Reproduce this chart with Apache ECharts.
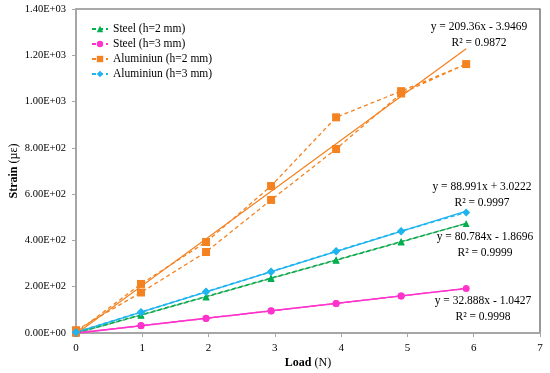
<!DOCTYPE html>
<html><head><meta charset="utf-8">
<script src="https://cdn.jsdelivr.net/npm/echarts@6/dist/echarts.min.js"></script>
<style>html,body{margin:0;padding:0;background:#fff}#c{width:550px;height:373px}</style>
</head><body><div id="c"></div>
<script>
// ---- data ----
var loads = [0, 0.981, 1.962, 2.943, 3.924, 4.905, 5.886];
var loadsLoop = [0, 0.981, 1.962, 2.943, 3.924, 4.905, 5.886, 4.905, 3.924, 2.943, 1.962, 0.981, 0];
var steel2 = [0, 77, 156, 236, 314, 393, 473, 395, 316, 238, 158, 79, 1];
var steel3 = [0, 31, 63, 95, 127, 160, 192, 160, 128, 96, 64, 32, 0];
var alu2 = [12, 175, 350, 575, 795, 1035, 1162, 1045, 932, 635, 393, 212, 2];
var alu3 = [2, 89, 177, 264, 352, 439, 521, 441, 354, 266, 179, 91, 4];
var trendX = [0, 5.886];
var trendSteel2 = [-1.87, 473.6];
var trendSteel3 = [-1.04, 192.5];
var trendAlu2 = [-3.95, 1228.3];
var trendAlu3 = [3.02, 526.8];
var names = ['Steel (h=2 mm)', 'Steel (h=3 mm)', 'Aluminiun (h=2 mm)', 'Aluminiun (h=3 mm)'];
var yTickLabels = ['0.00E+00','2.00E+02','4.00E+02','6.00E+02','8.00E+02','1.00E+03','1.20E+03','1.40E+03'];
var equations = [
  ['y = 209.36x - 3.9469', 'R² = 0.9872'],
  ['y = 88.991x + 3.0222', 'R² = 0.9997'],
  ['y = 80.784x - 1.8696', 'R² = 0.9999'],
  ['y = 32.888x - 1.0427', 'R² = 0.9998']
];
// ---- chart ----
var FONT = 'Liberation Serif';
var colors = {s2:'#00b050', s3:'#ff33cc', a2:'#f58220', a3:'#1fb4f0'};
function pairs(xs, ys){ return xs.map(function(x,i){return [x, ys[i]];}); }
function dataSeries(name, ys, color, symbol, size){
  return {name:name, type:'line', data:pairs(loadsLoop, ys), symbol:symbol, symbolSize:size,
    lineStyle:{color:color, width:1.3, type:[4,3]}, itemStyle:{color:color}, z:3};
}
function trendSeries(ys, color){
  return {name:'trend', type:'line', data:pairs(trendX, ys), symbol:'none',
    lineStyle:{color:color, width:1.3}, z:2, silent:true};
}
var chart = echarts.init(document.getElementById('c'));
var eqPos = [[479,27],[482,187],[485,237],[483,301]];
var graphics = [];
equations.forEach(function(e,i){
  graphics.push({type:'text', x:eqPos[i][0], y:eqPos[i][1], style:{text:e[0], font:'11.5px "'+FONT+'"', fill:'#000', align:'center', verticalAlign:'middle'}});
  graphics.push({type:'text', x:eqPos[i][0], y:eqPos[i][1]+16, style:{text:e[1], font:'11.5px "'+FONT+'"', fill:'#000', align:'center', verticalAlign:'middle'}});
});
chart.setOption({
  animation:false,
  textStyle:{fontFamily:FONT},
  grid:{left:76, right:10, top:9, bottom:40, containLabel:false, outerBoundsMode:'none', show:true, borderColor:'#555', borderWidth:1.2},
  legend:{data:names, orient:'vertical', left:86, top:18, itemGap:3, itemWidth:16, itemHeight:8,
    textStyle:{fontFamily:FONT, fontSize:11.5, color:'#000'}},
  xAxis:{type:'value', min:0, max:7, interval:1,
    name:'{b|Load} (N)', nameLocation:'middle', nameGap:24, nameMoveOverlap:false,
    nameTextStyle:{fontSize:12, color:'#000', rich:{b:{fontWeight:'bold', fontSize:12, fontFamily:FONT}}},
    axisLine:{show:true, onZero:false, lineStyle:{color:'#a6a6a6', width:2}},
    axisTick:{show:true, inside:false, length:4, lineStyle:{color:'#a6a6a6'}},
    axisLabel:{color:'#000', fontSize:11, margin:10}, splitLine:{show:false}},
  yAxis:{type:'value', min:0, max:1400, interval:200,
    name:'{b|Strain} (µε)', nameLocation:'middle', nameGap:56, nameRotate:90, nameMoveOverlap:false,
    nameTextStyle:{fontSize:12, color:'#000', rich:{b:{fontWeight:'bold', fontSize:12, fontFamily:FONT}}},
    axisLine:{show:true, onZero:false, lineStyle:{color:'#a6a6a6', width:2}},
    axisTick:{show:true, inside:false, length:4, lineStyle:{color:'#a6a6a6'}},
    axisLabel:{color:'#000', fontSize:10.5, margin:10, formatter:function(v){return yTickLabels[Math.round(v/200)];}},
    splitLine:{show:false}},
  series:[
    trendSeries(trendAlu2, colors.a2),
    trendSeries(trendAlu3, colors.a3),
    trendSeries(trendSteel2, '#98bd98'),
    trendSeries(trendSteel3, colors.s3),
    dataSeries(names[0], steel2, colors.s2, 'triangle', 7),
    dataSeries(names[1], steel3, colors.s3, 'circle', 7),
    dataSeries(names[2], alu2, colors.a2, 'rect', 8),
    dataSeries(names[3], alu3, colors.a3, 'diamond', 8)
  ],
  graphic:graphics
});
</script></body></html>
